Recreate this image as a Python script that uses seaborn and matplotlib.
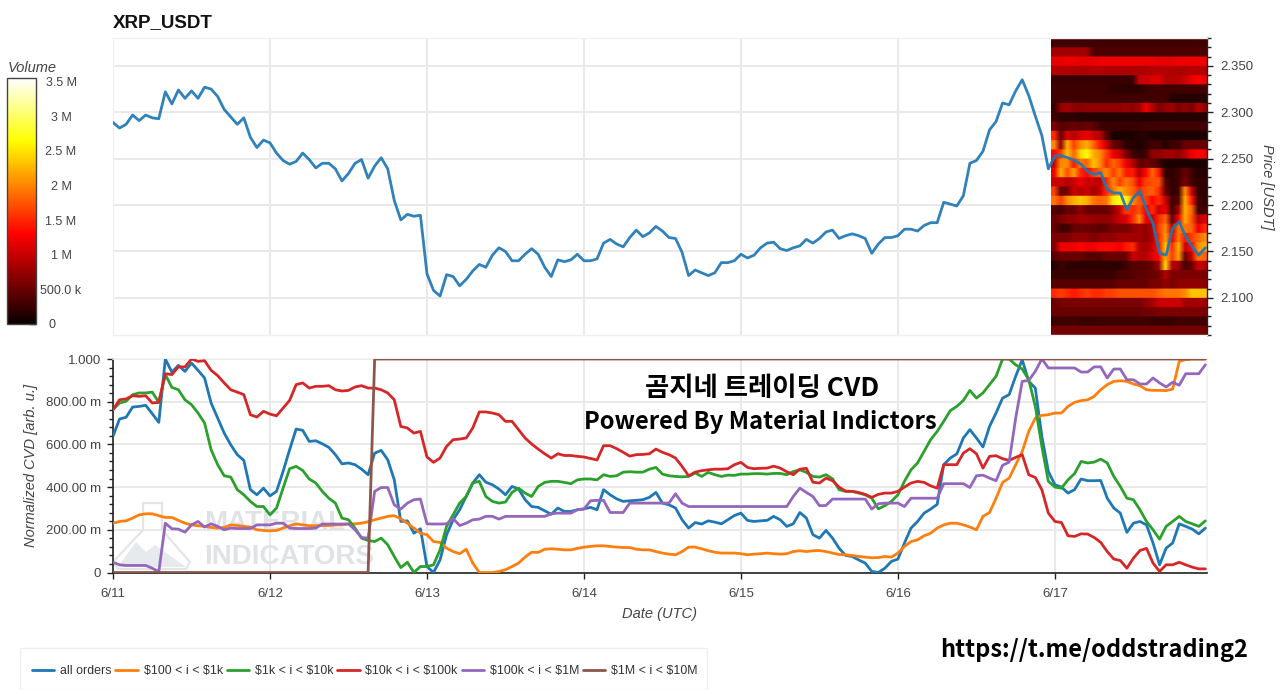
#!/usr/bin/env python3

import matplotlib
matplotlib.use("Agg")
import matplotlib.dates as mdates
import matplotlib.pyplot as plt
import numpy as np
import pandas as pd
import seaborn as sns
from matplotlib.patches import Polygon, Rectangle
from matplotlib.ticker import MultipleLocator, FixedLocator

FIG_W, FIG_H = 1280, 690

day_labels = ["6/11", "6/12", "6/13", "6/14", "6/15", "6/16", "6/17"]

price = [
    2.289, 2.283, 2.287, 2.297, 2.291, 2.297, 2.294, 2.293, 2.322, 2.309, 2.324, 2.315,
    2.323, 2.315, 2.327, 2.325, 2.317, 2.303, 2.295, 2.287, 2.294, 2.273, 2.262, 2.270,
    2.267, 2.256, 2.248, 2.244, 2.247, 2.256, 2.249, 2.240, 2.245, 2.245, 2.239, 2.226,
    2.234, 2.245, 2.249, 2.229, 2.242, 2.251, 2.239, 2.205, 2.184, 2.190, 2.188, 2.189,
    2.126, 2.108, 2.102, 2.125, 2.123, 2.113, 2.120, 2.129, 2.136, 2.133, 2.146, 2.154,
    2.150, 2.140, 2.140, 2.147, 2.153, 2.147, 2.133, 2.123, 2.141, 2.139, 2.141, 2.147,
    2.140, 2.140, 2.142, 2.159, 2.163, 2.158, 2.155, 2.165, 2.173, 2.166, 2.170, 2.177,
    2.172, 2.165, 2.164, 2.149, 2.124, 2.130, 2.127, 2.124, 2.127, 2.138, 2.138, 2.140,
    2.147, 2.143, 2.146, 2.154, 2.159, 2.160, 2.153, 2.151, 2.154, 2.156, 2.163, 2.159,
    2.164, 2.171, 2.173, 2.164, 2.167, 2.169, 2.167, 2.164, 2.148, 2.158, 2.165, 2.165,
    2.167, 2.174, 2.174, 2.172, 2.178, 2.181, 2.181, 2.203, 2.201, 2.199, 2.210, 2.245,
    2.248, 2.258, 2.281, 2.290, 2.310, 2.308, 2.323, 2.335, 2.318, 2.296, 2.275, 2.239,
    2.253, 2.253, 2.251, 2.248, 2.244, 2.236, 2.233, 2.235, 2.217, 2.213, 2.213, 2.195,
    2.208, 2.215, 2.195, 2.180, 2.148, 2.146, 2.175, 2.182, 2.166, 2.155, 2.146, 2.154,
]

all_orders = [
    .638, .719, .727, .775, .778, .783, .744, .703, 1.0, .938, .970, .942,
    .981, .947, .911, .794, .723, .653, .598, .552, .525, .388, .364, .395,
    .359, .380, .473, .575, .672, .666, .614, .617, .603, .586, .552, .509,
    .513, .505, .484, .458, .559, .572, .528, .434, .239, .242, .184, .205,
    .028, .0,
    .059, .177, .247, .294, .356, .419, .458, .423, .411, .391, .364, .403,
    .391, .341, .309, .305, .289, .273, .302, .286, .286, .294, .298, .305,
    .294, .388, .364, .345, .333, .336, .338, .341, .352, .375, .325, .317,
    .302, .247, .208, .234, .227, .242, .236, .228, .247, .267, .278, .244,
    .239, .242, .244, .263, .247, .216, .228, .281, .255, .177, .161, .197,
    .161, .114, .080, .075, .059, .044, .005, .0,
    .020, .052, .063, .138, .208, .239, .278, .297, .319, .505, .536, .555,
    .630, .669, .630, .588, .684, .747, .817, .833, .919, .997, .895, .864,
    .638, .473, .411, .400, .372, .388, .438, .430, .430, .431, .348, .302,
    .278, .188, .231, .239, .223, .138, .036, .114, .138, .228, .216, .203,
    .181, .208,
]

orders_100_1k = [
    .231, .239, .242, .255, .270, .275, .275, .266, .258, .258, .244, .231,
    .223, .219, .216, .211, .208, .211, .223, .220, .216, .213, .200, .197,
    .195, .197, .208, .219, .228, .223, .219, .219, .220, .220, .223, .223,
    .227, .228, .231, .238, .247, .255, .263, .266, .252, .231, .208, .184,
    .177, .145,
    .141, .114, .098, .088, .109, .044, .0, .0, .0, .005, .013, .028,
    .044, .072, .095, .094, .109, .111, .109, .106, .106, .113, .119, .122,
    .125, .125, .122, .119, .117, .117, .109, .106, .106, .098, .091, .086,
    .083, .098, .119, .119, .111, .102, .095, .091, .091, .091, .088, .083,
    .086, .088, .091, .088, .086, .088, .098, .102, .098, .102, .103, .098,
    .091, .084, .083, .080, .075, .072, .069, .070,
    .075, .072, .091, .122, .145, .153, .172, .184, .208, .223, .231, .231,
    .223, .213, .200, .263, .281, .348, .422, .442, .505, .567, .661, .723,
    .736, .739, .747, .747, .778, .797, .805, .809, .825, .856, .880, .895,
    .898, .895, .883, .875, .856, .853, .853, .852, .859, .989, .997, 1.0,
    1.0, 1.0,
]

orders_1k_10k = [
    .763, .794, .802, .833, .841, .841, .845, .797, .927, .867, .856, .809,
    .786, .747, .700, .575, .505, .453, .447, .388, .364, .333, .309, .309,
    .270, .302, .395, .486, .497, .478, .438, .419, .380, .348, .325, .255,
    .247, .208, .161, .150, .145, .161, .130, .075, .023, .048, .0, .028,
    .028, .036,
    .106, .216, .270, .325, .356, .419, .427, .356, .333, .325, .330, .375,
    .395, .372, .356, .403, .422, .427, .427, .422, .416, .434, .438, .438,
    .434, .458, .450, .453, .470, .472, .470, .470, .484, .492, .461, .453,
    .450, .448, .450, .466, .450, .469, .458, .450, .456, .455, .461, .461,
    .463, .463, .461, .464, .464, .458, .473, .481, .469, .450, .447, .458,
    .439, .388, .380, .380, .372, .364, .348, .298,
    .313, .333, .364, .427, .481, .513, .567, .622, .661, .708, .758, .778,
    .806, .853, .817, .841, .880, .919, 1.0, 1.0, .973, .953, .903, .778,
    .591, .427, .400, .395, .434, .463, .520, .513, .517, .531, .513, .450,
    .403, .348, .341, .294, .239, .200, .156, .216, .239, .263, .239, .228,
    .216, .242,
]

orders_10k_100k = [
    .763, .809, .813, .828, .825, .828, .794, .797, .931, .927, .963, .963,
    1.0, .989, .992, .947, .922, .888, .856, .845, .833, .739, .728, .755,
    .742, .734, .770, .806, .880, .888, .864, .872, .872, .875, .856, .850,
    .853, .869, .875, .864, .864, .856, .841, .809, .684, .677, .653, .661,
    .541, .516,
    .536, .591, .622, .625, .630, .677, .752, .752, .747, .739, .708, .708,
    .669, .630, .602, .578, .556, .536, .556, .548, .548, .544, .541, .534,
    .527, .594, .594, .580, .563, .545, .552, .553, .556, .578, .563, .552,
    .536, .497, .453, .470, .477, .481, .484, .484, .486, .505, .516, .492,
    .486, .488, .489, .498, .489, .472, .458, .484, .488, .423, .419, .442,
    .430, .400, .381, .380, .375, .366, .352, .366,
    .372, .372, .380, .400, .419, .427, .422, .406, .395, .505, .505, .505,
    .559, .580, .556, .489, .544, .547, .533, .525, .539, .552, .458, .445,
    .388, .278, .239, .234, .172, .169, .181, .180, .164, .141, .098, .063,
    .056, .020, .067, .103, .113, .044, .005, .036, .036, .048, .036, .025,
    .017, .017,
]

orders_100k_1m = [
    .048, .036, .033, .033, .033, .033, .020, .003, .231, .205, .203, .189,
    .223, .239, .213, .228, .216, .200, .208, .206, .206, .206, .223, .223,
    .223, .231, .231, .208, .206, .206, .206, .208, .227, .227, .227, .227,
    .228, .200, .164, .161, .380, .398, .398, .317, .297, .325, .341, .344,
    .228, .227,
    .227, .228, .252, .220, .231, .247, .250, .263, .263, .250, .263, .263,
    .263, .263, .263, .263, .263, .275, .278, .278, .278, .294, .297, .336,
    .338, .338, .281, .281, .281, .325, .325, .325, .325, .325, .325, .325,
    .369, .325, .309, .309, .309, .309, .309, .309, .309, .309, .309, .309,
    .309, .309, .309, .309, .309, .309, .356, .395, .375, .356, .313, .314,
    .344, .344, .344, .344, .344, .344, .297, .322,
    .325, .325, .325, .309, .348, .348, .348, .348, .348, .416, .416, .416,
    .416, .398, .453, .456, .442, .430, .502, .517, .723, .895, .900, .942,
    1.0, .958, .958, .958, .958, .958, .939, .939, .963, .963, .911, .953,
    .953, .903, .903, .883, .883, .911, .888, .869, .891, .877, .931, .931,
    .931, .973,
]

orders_1m_10m = [0.0] * 40 + [1.0] * 128

series_names = [
    "all orders", "$100 < i < $1k", "$1k < i < $10k",
    "$10k < i < $100k", "$100k < i < $1M", "$1M < i < $10M",
]
series_values = [
    all_orders, orders_100_1k, orders_1k_10k,
    orders_10k_100k, orders_100k_1m, orders_1m_10m,
]
series_colors = ["#1f77b4", "#ff7f0e", "#2ca02c", "#d62728", "#9467bd", "#8c564b"]

# volume per price bin (in millions), top row 2.37-2.38 down to 2.06-2.07
heat_volume = [
    [.3] * 24,
    [.8, .8, .8, .8, .8, .8, .35, .35, .35, .35, .35, .35, .35, .35, .35, .35, .35, .35, .35, .35, .35, .35, .35, .35],
    [1.15, 1.15, 1.2, 1.2, 1.15, 1.15, 1.15, 1.2, 1.2, 1.2, 1.2, 1.2, 1.2, 1.2, 1.2, 1.2, 1.15, 1.15, 1.15, 1.2, 1.2, 1.2, 1.2, 1.2],
    [.9, .9, .9, .85, .85, .85, .9, .9, .85, .85, .85, .85, .85, .85, .85, .9, .9, .9, .85, .85, .85, .9, .9, .9],
    [.25, .25, .25, .25, .25, .25, .25, .25, .25, .25, .25, .25, .25, 1.0, 1.0, 1.1, 1.1, .9, .9, .9, 1.0, 1.2, 1.25, 1.2],
    [.3, .3, .3, .3, .3, .3, .3, .3, .25, .2, .2, .2, .2, .2, .25, .3, .3, .3, .3, .3, .3, .3, .3, .3],
    [.3, .3, .3, .3, .3, .3, .3, .3, .3, .3, .3, .3, .3, .3, .3, .3, .3, .3, .15, .15, .15, .15, .15, .15],
    [.25, .7, .8, .7, .65, .7, .7, .7, .7, .7, .7, .75, .7, .8, 1.2, .9, .6, .7, .8, .6, .7, .6, .9, .7],
    [.3, .2, .2, .2, .15, .15, .15, .15, .15, .15, .15, .15, .15, .15, .15, .15, .15, .15, .15, .15, .15, .15, .15, .15],
    [.6, .4, .45, .5, .45, .5, .45, .3, .25, .25, .25, .25, .25, .25, .3, .3, .3, .3, .3, .3, .3, .3, .3, .3],
    [1.5, .5, 1.1, .9, 1.1, 1.2, 1.0, .9, .4, .1, .1, .1, .1, .15, .15, .1, .1, .1, .1, .1, .1, .1, .1, .1],
    [2.0, .7, 2.2, 1.6, 2.0, 2.2, 1.8, 1.4, 1.0, .5, .4, .2, .15, .1, .2, .3, .3, .15, .3, .3, .5, .5, .5, .5],
    [1.3, 1.6, 2.3, 1.8, 2.4, 2.6, 2.2, 2.0, 1.6, 1.2, 1.0, .6, .3, .2, .3, .7, .7, .8, .8, .7, .9, 1.2, 1.3, 1.2],
    [1.0, 2.0, 2.0, 1.4, 1.9, 1.8, 2.3, 2.0, 1.5, 1.8, 1.6, 1.2, .9, .5, .5, .5, .3, .1, .1, .1, .1, .1, .1, .1],
    [1.2, 2.2, 1.7, 2.1, 1.5, 1.3, 1.6, 1.8, 2.0, 1.6, 1.9, 1.4, 1.4, .9, 1.3, 1.8, 1.4, .2, .2, .3, .5, .3, .15, .15],
    [1.0, 1.0, .9, 1.0, 1.2, 1.0, 1.0, .9, 1.5, 2.0, 1.6, 1.9, 1.7, 1.2, 1.6, 1.7, 1.7, .4, .2, .3, .6, .3, .2, .2],
    [1.6, .5, .6, 1.0, .9, 1.0, .8, 1.0, 1.5, 1.9, 2.2, 2.0, 1.8, 1.5, 1.7, 1.8, 1.5, .5, .2, .3, 2.0, 1.0, .2, .2],
    [1.9, 1.6, 2.0, 2.2, 2.3, 2.2, 1.9, 1.8, 1.9, 2.5, 2.7, 2.6, 2.0, 1.7, 1.6, 1.3, 1.5, 1.0, .3, .4, 2.2, 1.4, .3, .2],
    [.4, .3, .5, .5, .7, .5, .5, .5, .5, .7, 1.0, 1.6, 1.5, 1.7, 1.2, 1.5, 1.0, 1.2, .3, .8, 2.2, 1.8, .3, .3],
    [.5, .6, .7, .7, .8, .8, .7, .7, .7, .8, 1.0, 1.1, 1.5, 2.0, 1.2, 1.0, 1.5, 1.8, .5, 1.2, 2.2, 1.7, .9, 1.1],
    [.5, .3, .3, .5, .5, .5, .5, .4, .5, .6, .6, .6, .7, .8, .7, .9, 1.6, 2.0, .9, 1.9, 1.9, 1.8, 1.2, 1.5],
    [.6, .6, .6, .7, .7, .7, .6, .7, .7, .7, .8, .8, .8, .8, .7, .9, 1.5, 2.1, 1.2, 1.9, 1.4, 1.6, 1.8, 2.0],
    [.6, 1.2, 1.2, 1.2, 1.3, 1.2, 1.2, 1.3, 1.3, 1.3, 1.2, 1.4, 1.5, .9, .8, 1.0, 1.4, 2.3, 1.5, 2.2, 1.0, 1.3, 2.0, 2.2],
    [.4, .5, .5, .5, .5, .4, .4, .4, .5, .5, .5, .5, 1.0, .9, .9, 1.1, 1.3, 2.2, 1.6, 2.1, .5, 1.0, 1.9, 1.8],
    [.15, .3, .2, .2, .2, .2, .2, .2, .2, .2, .2, .3, .4, .4, .4, .5, .8, 2.4, .9, .8, .3, .5, 1.0, .9],
    [.25, .25, .25, .25, .25, .25, .25, .25, .25, .25, .35, .35, .4, .45, .45, .5, .55, .9, .6, .6, .6, .6, .6, .6],
    [.4, .4, .4, .4, .4, .4, .4, .4, .4, .4, .5, .5, .5, .5, .5, .6, .6, .7, .6, .7, .7, .7, .7, .7],
    [1.5, 1.6, 1.5, 1.4, 1.5, 1.6, 1.5, 1.5, 1.6, 1.6, 1.7, 1.7, 1.7, 1.7, 1.7, 1.7, 1.8, 1.9, 1.9, 1.9, 2.0, 2.3, 2.3, 2.3],
    [.5, .6, .6, .6, .6, .6, .6, .6, .6, .6, .6, .6, .6, .6, .7, .8, 1.0, 1.0, 1.0, 1.0, .8, .8, .8, .8],
    [.5, .5, .5, .5, .5, .5, .5, .5, .5, .5, .5, .5, .5, .5, .55, .55, .6, .6, .6, .6, .6, .6, .6, .6],
    [.25, .3, .3, .3, .25, .25, .25, .3, .3, .3, .3, .3, .3, .3, .3, .25, .25, .25, .25, .3, .3, .3, .3, .3],
    [.55] * 24,
]
colorbar_ticks = [0, 0.5, 1, 1.5, 2, 2.5, 3, 3.5]
colorbar_labels = ["0", "500.0 k", "1 M", "1.5 M", "2 M", "2.5 M", "3 M", "3.5 M"]
price_ticks = [2.10, 2.15, 2.20, 2.25, 2.30, 2.35]
cvd_ticks = [0, 0.2, 0.4, 0.6, 0.8, 1.0]
cvd_labels = ["0", "200.00 m", "400.00 m", "600.00 m", "800.00 m", "1.000"]

sns.set_theme(style="whitegrid")
plt.rcParams["font.family"] = ["Liberation Sans", "Noto Sans CJK KR", "DejaVu Sans"]
GRID = "#e9e9e9"
TEXT = "#444444"


def box(left, top, right, bottom):
    return [left / FIG_W, 1 - bottom / FIG_H, (right - left) / FIG_W, (bottom - top) / FIG_H]


def fx(px):
    return px / FIG_W


def fy(py):
    return 1 - py / FIG_H


times = pd.date_range("2025-06-11", periods=168, freq="h")
day_ticks = pd.date_range("2025-06-11", periods=7, freq="D")
x_end = times[0] + pd.Timedelta(hours=167.25)
heat_start = times[0] + pd.Timedelta(hours=143.4)

fig = plt.figure(figsize=(FIG_W / 100, FIG_H / 100), dpi=100, facecolor="white")
ax_price = fig.add_axes(box(113, 38, 1207, 335))
ax_cvd = fig.add_axes(box(113, 359, 1207, 572.5))
ax_bar = fig.add_axes(box(7, 78, 36, 324))

# price panel, rows repeated so the smoothing only blurs along time
ax_price.imshow(
    np.repeat(heat_volume, 8, axis=0),
    extent=[mdates.date2num(heat_start), mdates.date2num(x_end), 2.06, 2.38],
    aspect="auto",
    cmap="hot",
    vmin=0,
    vmax=3.5,
    interpolation="bilinear",
    zorder=1.5,
)
sns.lineplot(x=times, y=price, ax=ax_price, color="#1f77b4", linewidth=2.0, alpha=0.92, zorder=3)
ax_price.set_xlim(times[0], x_end)
ax_price.set_ylim(2.06, 2.38)
ax_price.set_xticks(day_ticks)
ax_price.set_xticklabels([])
ax_price.set_xlabel("")
ax_price.tick_params(axis="x", length=0)
ax_price.yaxis.tick_right()
ax_price.yaxis.set_label_position("right")
ax_price.yaxis.set_major_locator(FixedLocator(price_ticks))
ax_price.yaxis.set_major_formatter(lambda v, _: f"{v:.3f}")
ax_price.yaxis.set_minor_locator(MultipleLocator(0.01))
ax_price.tick_params(axis="y", which="major", length=4.5, width=1, color="#222222", labelsize=9.5, labelcolor=TEXT, pad=5)
ax_price.tick_params(axis="y", which="minor", length=3, width=1, color="#222222", right=True, left=False)
ax_price.set_ylabel("Price [USDT]", fontsize=10.5, fontstyle="italic", color=TEXT, rotation=270, labelpad=15)
ax_price.grid(True, color=GRID, linewidth=1.4)
for side, spine in ax_price.spines.items():
    spine.set_color("#222222" if side == "right" else "#f0f0f0")
    spine.set_linewidth(1)

# cvd panel
cvd_frame = pd.DataFrame({
    "time": list(times) * len(series_names),
    "value": [v for values in series_values for v in values],
    "series": [name for name in series_names for _ in range(168)],
})
sns.lineplot(
    data=cvd_frame, x="time", y="value", hue="series", hue_order=series_names,
    palette=series_colors, linewidth=2.0, ax=ax_cvd, legend=False, zorder=3,
)
ax_cvd.set_xlim(times[0], x_end)
ax_cvd.set_ylim(0, 1)
ax_cvd.set_xticks(day_ticks)
ax_cvd.set_xticklabels(day_labels)
ax_cvd.yaxis.set_major_locator(FixedLocator(cvd_ticks))
ax_cvd.set_yticklabels(cvd_labels)
ax_cvd.yaxis.set_minor_locator(MultipleLocator(0.04))
ax_cvd.tick_params(axis="y", which="major", length=4.5, width=1, color="#222222", labelsize=9.5, labelcolor=TEXT, pad=4, left=True)
ax_cvd.tick_params(axis="x", which="major", length=4.5, width=1, color="#222222", labelsize=9.5, labelcolor=TEXT, pad=7, bottom=True)
ax_cvd.tick_params(axis="y", which="minor", length=3, width=1, color="#222222", left=True)
ax_cvd.set_xlabel("Date (UTC)", fontsize=10.5, fontstyle="italic", color=TEXT, labelpad=5)
ax_cvd.set_ylabel("Normalized CVD [arb. u.]", fontsize=10.5, fontstyle="italic", color=TEXT, labelpad=6)
ax_cvd.grid(True, color=GRID, linewidth=1.4)
for side, spine in ax_cvd.spines.items():
    spine.set_color("#222222" if side in ("left", "bottom") else "#f0f0f0")
    spine.set_linewidth(1.2)

# watermark
for label, py in (("MATERIAL", 523), ("INDICATORS", 557)):
    ax_cvd.text(fx(204), fy(py), label, transform=fig.transFigure, fontsize=20, fontweight="bold",
                color="#dfe3e6", va="center", ha="left", zorder=1, clip_on=False)
flask = [(143, 503), (162, 503), (162, 530), (190, 562), (186, 569), (118, 569), (113, 562), (143, 530)]
hill = [(118, 567), (136, 542), (146, 552), (155, 545), (186, 567)]
ax_cvd.add_patch(Polygon([(fx(a), fy(b)) for a, b in flask], closed=True, transform=fig.transFigure,
                         facecolor="none", edgecolor="#e3e6e8", linewidth=1.6, zorder=1, clip_on=False))
ax_cvd.add_patch(Polygon([(fx(a), fy(b)) for a, b in hill], closed=True, transform=fig.transFigure,
                         facecolor="#e6eaec", edgecolor="none", zorder=1, clip_on=False))

# colour bar
scale = plt.cm.ScalarMappable(norm=plt.Normalize(0, 3.55), cmap="hot")
bar = fig.colorbar(scale, cax=ax_bar)
bar.set_ticks(colorbar_ticks)
bar.set_ticklabels(colorbar_labels)
ax_bar.tick_params(axis="y", direction="in", length=5, width=1, color="#222222", labelsize=9, labelcolor=TEXT, pad=3, right=True)
bar.outline.set_edgecolor("#444444")
bar.outline.set_linewidth(1)
for label in ax_bar.get_yticklabels():
    label.set_horizontalalignment("center")
    label.set_x(1.72)
ax_bar.get_yticklabels()[0].set_x(1.4)
ax_bar.grid(False)

# legend box runs off the bottom of the picture
fig.add_artist(Rectangle((fx(20), fy(690)), fx(687), 42 / FIG_H, transform=fig.transFigure,
                         facecolor="white", edgecolor="#eeeeee", linewidth=1))
handles = ax_cvd.get_lines()[:6]
legend = fig.legend(
    handles, series_names, ncol=6, loc="center left",
    bbox_to_anchor=(fx(20), fy(671)), fontsize=8.9, frameon=False,
    borderpad=0, borderaxespad=0.95, columnspacing=0.32, handlelength=1.8, handletextpad=0.48,
    labelcolor="#333333",
)
for text in legend.get_texts():
    text.set_parse_math(False)
for line in legend.get_lines():
    line.set_linewidth(2.0)

fig.text(fx(113), fy(23), "XRP_USDT", fontsize=13.5, fontweight="bold", color="#111111", va="center")
fig.text(fx(8), fy(67.5), "Volume", fontsize=10.5, fontstyle="italic", color=TEXT, va="center")
fig.text(fx(762), fy(389), "곰지네 트레이딩 CVD", fontsize=19, fontweight="bold", color="black",
         ha="center", va="center", family=["Noto Sans CJK KR", "DejaVu Sans"])
fig.text(fx(760), fy(422), "Powered By Material Indictors", fontsize=17.1, fontweight="bold", color="black",
         ha="center", va="center", family=["Noto Sans CJK KR", "DejaVu Sans"])
fig.text(fx(1094), fy(650), "https://t.me/oddstrading2", fontsize=17, fontweight="bold", color="black",
         ha="center", va="center", family=["Noto Sans CJK KR", "DejaVu Sans"])

fig.savefig("out.png", dpi=100)
